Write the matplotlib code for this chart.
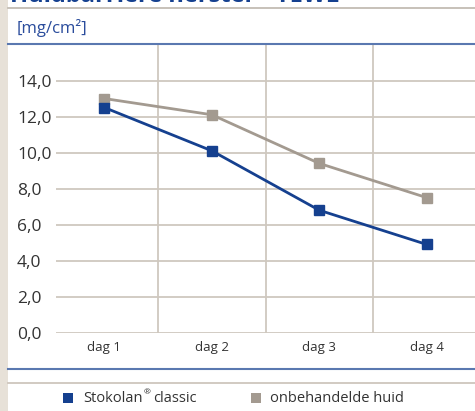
import matplotlib
matplotlib.use("Agg")
import matplotlib.pyplot as plt
from matplotlib.lines import Line2D
from matplotlib.patches import Rectangle

# --- data ---
DAYS = ["dag 1", "dag 2", "dag 3", "dag 4"]
STOKOLAN = [12.5, 10.1, 6.8, 4.9]
UNTREATED = [13.0, 12.1, 9.4, 7.5]
Y_TICKS = [0, 2, 4, 6, 8, 10, 12, 14]
SERIES_NAMES = ["Stokolan", "onbehandelde huid"]

BLUE = "#15408f"
GREY = "#a39a90"
GRID = "#cfc8bf"
TEXT = "#333333"
BEIGE = "#e7e1d8"

plt.rcParams["font.family"] = ["Open Sans", "DejaVu Sans"]

W, H = 475, 411
fig = plt.figure(figsize=(W / 100, H / 100), dpi=100)
fig.patch.set_facecolor("white")

def fx(px):
    return px / W

def fy(py):
    return 1 - py / H

# beige strip on the left
fig.patches.append(Rectangle((0, 0), fx(8), 1, transform=fig.transFigure,
                             facecolor=BEIGE, edgecolor="none", zorder=0))

# cut-off title at the very top
fig.text(fx(10), fy(2.5), "Huidbarri\u00e8re herstel \u2013 TEWL", color=BLUE,
         fontsize=17, fontweight="bold", va="baseline", ha="left")

# decorative rules
for y, c, lw in [(8.5, "#bdb6ad", 1.2), (44.5, "#5a78b0", 1.5),
                 (369, "#5a78b0", 1.5), (383, "#c9c1b8", 1.2)]:
    fig.add_artist(Line2D([fx(8), 1], [fy(y), fy(y)], color=c, lw=lw,
                          transform=fig.transFigure))

fig.text(fx(17), fy(33), "[mg/cm\u00b2]", color="#2a4c9c", fontsize=12,
         va="baseline", ha="left")

ax = fig.add_axes([fx(56), fy(332.7), 1 - fx(56), fy(44.5) - fy(332.7)])
ax.set_xlim(-0.45, 3.45)
ax.set_ylim(0, 16)
x = list(range(len(DAYS)))

for yv in Y_TICKS:
    ax.axhline(yv, color=GRID, lw=1.3, zorder=1)
for xv in [0.5, 1.5, 2.5]:
    ax.axvline(xv, color=GRID, lw=1.3, zorder=1)

ax.plot(x, UNTREATED, color=GREY, lw=2, marker="s", markersize=7, zorder=3)
ax.plot(x, STOKOLAN, color=BLUE, lw=2, marker="s", markersize=7, zorder=4)

for s in ax.spines.values():
    s.set_visible(False)
ax.set_yticks(Y_TICKS)
ax.set_yticklabels([f"{v:.1f}".replace(".", ",") for v in Y_TICKS])
ax.set_xticks(x)
ax.set_xticklabels(DAYS)
ax.tick_params(axis="y", length=0, pad=28, labelsize=12.5, labelcolor=TEXT)
ax.tick_params(axis="x", length=0, pad=6, labelsize=9.5, labelcolor=TEXT)
for lab in ax.get_yticklabels():
    lab.set_horizontalalignment("left")
    lab.set_verticalalignment("center_baseline")

# legend drawn by hand at the bottom
renderer = fig.canvas.get_renderer()
fig.patches.append(Rectangle((fx(63), fy(403)), fx(10), 10 / H,
                             transform=fig.transFigure, facecolor=BLUE,
                             edgecolor="none"))
t1 = fig.text(fx(83), fy(398), SERIES_NAMES[0], color=TEXT, fontsize=10.5,
              va="center", ha="left")
x1 = t1.get_window_extent(renderer).x1
t2 = fig.text(fx(x1 + 1), fy(393), "\u00ae", color=TEXT, fontsize=6,
              va="center", ha="left")
x2 = t2.get_window_extent(renderer).x1
fig.text(fx(x2 + 3), fy(398), "classic", color=TEXT, fontsize=10.5,
         va="center", ha="left")
fig.patches.append(Rectangle((fx(251), fy(403)), fx(10), 10 / H,
                             transform=fig.transFigure, facecolor=GREY,
                             edgecolor="none"))
fig.text(fx(270), fy(398), SERIES_NAMES[1], color=TEXT, fontsize=10.5,
         va="center", ha="left")

fig.savefig("out.png", dpi=100)
